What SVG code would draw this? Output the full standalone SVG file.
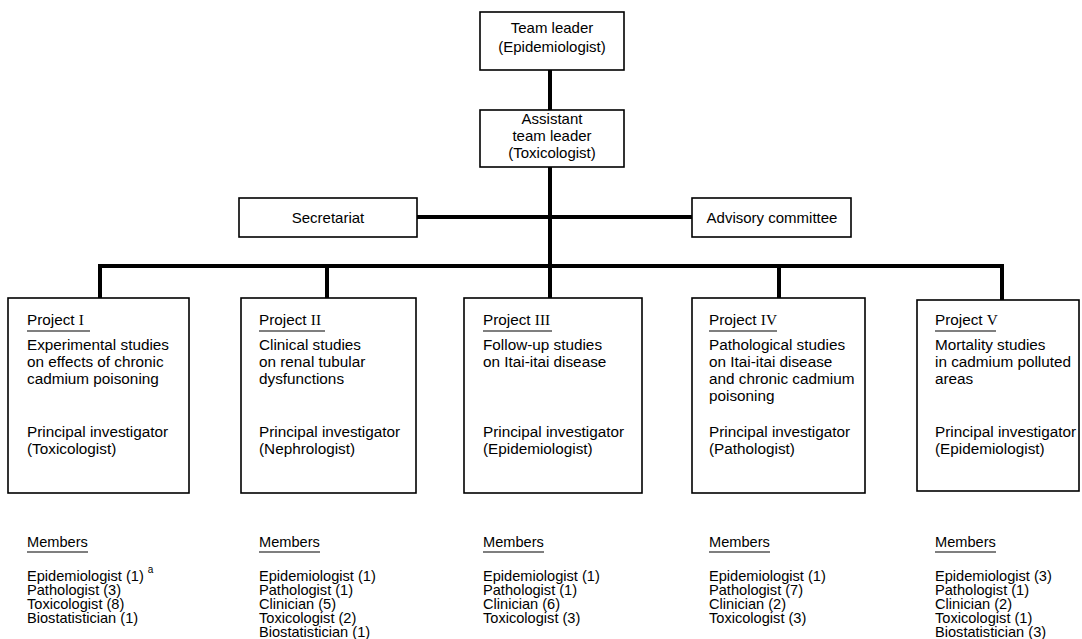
<svg xmlns="http://www.w3.org/2000/svg" width="1082" height="639" viewBox="0 0 1082 639">
<style>
  .box { fill: #fff; stroke: #000; stroke-width: 1.6; }
  .con { stroke: #000; stroke-width: 4; fill: none; }
  text { font-family: "Liberation Sans", Arial, sans-serif; font-size: 15px; fill: #000; }
  .b { font-size: 15.3px; }
  .m { font-size: 14.6px; }
  .c { text-anchor: middle; }
  .num { font-family: "Liberation Serif", "Times New Roman", serif; }
  .ul { stroke: #000; stroke-width: 1.2; }
  .sup { font-size: 10px; }
</style>
<rect width="1082" height="639" fill="#fff"/>
<g id="connectors">
  <line class="con" x1="550" y1="70" x2="550" y2="110"/>
  <line class="con" x1="550" y1="167" x2="550" y2="266"/>
  <line class="con" x1="417" y1="217" x2="692" y2="217"/>
  <line class="con" x1="98" y1="266" x2="1004" y2="266"/>
  <line class="con" x1="100" y1="264" x2="100" y2="298"/>
  <line class="con" x1="327" y1="266" x2="327" y2="298"/>
  <line class="con" x1="550" y1="266" x2="550" y2="298"/>
  <line class="con" x1="779" y1="266" x2="779" y2="298"/>
  <line class="con" x1="1002" y1="264" x2="1002" y2="300"/>
</g>
<g id="team-leader">
  <rect class="box" x="480" y="12" width="144" height="58"/>
  <text class="c" x="552" y="33">Team leader</text>
  <text class="c" x="552" y="52">(Epidemiologist)</text>
</g>
<g id="assistant">
  <rect class="box" x="480" y="110" width="144" height="57"/>
  <text class="c" x="552" y="124">Assistant</text>
  <text class="c" x="552" y="141">team leader</text>
  <text class="c" x="552" y="158">(Toxicologist)</text>
</g>
<g id="secretariat">
  <rect class="box" x="239" y="198" width="178" height="39"/>
  <text class="c" x="328" y="223">Secretariat</text>
</g>
<g id="advisory">
  <rect class="box" x="692" y="198" width="159" height="39"/>
  <text class="c" x="772" y="223">Advisory committee</text>
</g>
<g id="project1">
  <rect class="box" x="8" y="298" width="181" height="195"/>
  <text class="b" x="27" y="325">Project <tspan class="num">I</tspan></text>
  <line class="ul" x1="27" y1="331" x2="90" y2="331"/>
  <text class="b" x="27" y="350">Experimental studies</text>
  <text class="b" x="27" y="367">on effects of chronic</text>
  <text class="b" x="27" y="384">cadmium poisoning</text>
  <text class="b" x="27" y="437">Principal investigator</text>
  <text class="b" x="27" y="454">(Toxicologist)</text>
  <text class="m" x="27" y="547">Members</text>
  <line class="ul" x1="27" y1="552" x2="88" y2="552"/>
  <text class="m" x="27" y="581">Epidemiologist (1) <tspan class="sup" dy="-8">a</tspan></text>
  <text class="m" x="27" y="595">Pathologist (3)</text>
  <text class="m" x="27" y="609">Toxicologist (8)</text>
  <text class="m" x="27" y="623">Biostatistician (1)</text>
</g>
<g id="project2">
  <rect class="box" x="241" y="298" width="175" height="195"/>
  <text class="b" x="259" y="325">Project <tspan class="num">II</tspan></text>
  <line class="ul" x1="259" y1="331" x2="325" y2="331"/>
  <text class="b" x="259" y="350">Clinical studies</text>
  <text class="b" x="259" y="367">on renal tubular</text>
  <text class="b" x="259" y="384">dysfunctions</text>
  <text class="b" x="259" y="437">Principal investigator</text>
  <text class="b" x="259" y="454">(Nephrologist)</text>
  <text class="m" x="259" y="547">Members</text>
  <line class="ul" x1="259" y1="552" x2="320" y2="552"/>
  <text class="m" x="259" y="581">Epidemiologist (1)</text>
  <text class="m" x="259" y="595">Pathologist (1)</text>
  <text class="m" x="259" y="609">Clinician (5)</text>
  <text class="m" x="259" y="623">Toxicologist (2)</text>
  <text class="m" x="259" y="637">Biostatistician (1)</text>
</g>
<g id="project3">
  <rect class="box" x="464" y="298" width="178" height="195"/>
  <text class="b" x="483" y="325">Project <tspan class="num">III</tspan></text>
  <line class="ul" x1="483" y1="331" x2="552" y2="331"/>
  <text class="b" x="483" y="350">Follow-up studies</text>
  <text class="b" x="483" y="367">on Itai-itai disease</text>
  <text class="b" x="483" y="437">Principal investigator</text>
  <text class="b" x="483" y="454">(Epidemiologist)</text>
  <text class="m" x="483" y="547">Members</text>
  <line class="ul" x1="483" y1="552" x2="544" y2="552"/>
  <text class="m" x="483" y="581">Epidemiologist (1)</text>
  <text class="m" x="483" y="595">Pathologist (1)</text>
  <text class="m" x="483" y="609">Clinician (6)</text>
  <text class="m" x="483" y="623">Toxicologist (3)</text>
</g>
<g id="project4">
  <rect class="box" x="692" y="298" width="173" height="195"/>
  <text class="b" x="709" y="325">Project <tspan class="num">IV</tspan></text>
  <line class="ul" x1="709" y1="331" x2="777" y2="331"/>
  <text class="b" x="709" y="350">Pathological studies</text>
  <text class="b" x="709" y="367">on Itai-itai disease</text>
  <text class="b" x="709" y="384">and chronic cadmium</text>
  <text class="b" x="709" y="401">poisoning</text>
  <text class="b" x="709" y="437">Principal investigator</text>
  <text class="b" x="709" y="454">(Pathologist)</text>
  <text class="m" x="709" y="547">Members</text>
  <line class="ul" x1="709" y1="552" x2="770" y2="552"/>
  <text class="m" x="709" y="581">Epidemiologist (1)</text>
  <text class="m" x="709" y="595">Pathologist (7)</text>
  <text class="m" x="709" y="609">Clinician (2)</text>
  <text class="m" x="709" y="623">Toxicologist (3)</text>
</g>
<g id="project5">
  <rect class="box" x="917" y="300" width="162" height="191"/>
  <text class="b" x="935" y="325">Project <tspan class="num">V</tspan></text>
  <line class="ul" x1="935" y1="331" x2="996" y2="331"/>
  <text class="b" x="935" y="350">Mortality studies</text>
  <text class="b" x="935" y="367">in cadmium polluted</text>
  <text class="b" x="935" y="384">areas</text>
  <text class="b" x="935" y="437">Principal investigator</text>
  <text class="b" x="935" y="454">(Epidemiologist)</text>
  <text class="m" x="935" y="547">Members</text>
  <line class="ul" x1="935" y1="552" x2="996" y2="552"/>
  <text class="m" x="935" y="581">Epidemiologist (3)</text>
  <text class="m" x="935" y="595">Pathologist (1)</text>
  <text class="m" x="935" y="609">Clinician (2)</text>
  <text class="m" x="935" y="623">Toxicologist (1)</text>
  <text class="m" x="935" y="637">Biostatistician (3)</text>
</g>
</svg>
